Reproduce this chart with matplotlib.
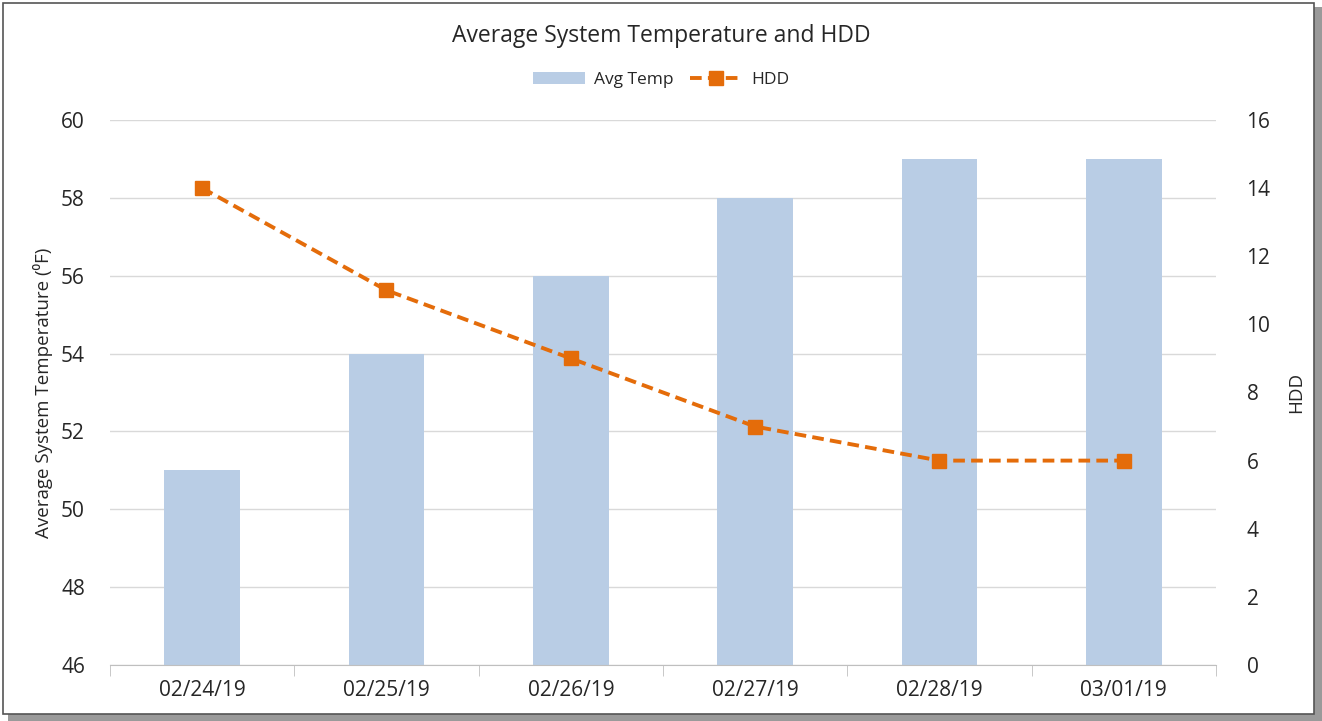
import matplotlib.pyplot as plt
from matplotlib.patches import Rectangle
from matplotlib.lines import Line2D

dates = ['02/24/19', '02/25/19', '02/26/19', '02/27/19', '02/28/19', '03/01/19']
avg_temp = [51, 54, 56, 58, 59, 59]
hdd = [14, 11, 9, 7, 6, 6]

plt.rcParams['font.family'] = ['Open Sans', 'DejaVu Sans']
text_col = '#262626'

fig = plt.figure(figsize=(13.22, 7.21), dpi=100)

# frame with shadow
fig.patches.append(Rectangle((0.006, 0.0), 0.994, 0.99, transform=fig.transFigure,
                             facecolor='#9a9a9a', edgecolor='none', zorder=-2))
fig.patches.append(Rectangle((0.002, 0.01), 0.992, 0.986, transform=fig.transFigure,
                             facecolor='white', edgecolor='#555555', lw=1.2, zorder=-1))

ax = fig.add_axes([0.0832, 0.0777, 0.8366, 0.7559])
x = range(len(dates))
ax.bar(x, avg_temp, width=0.41, color='#B9CDE5', zorder=2)
ax.set_xlim(-0.5, len(dates) - 0.5)
ax.set_ylim(46, 60)
ax.set_yticks(range(46, 61, 2))
ax.grid(axis='y', color='#D9D9D9', lw=1, zorder=0)
ax.set_xticks(list(x))
ax.set_xticklabels(dates)
ax.set_xticks([i - 0.5 for i in range(len(dates) + 1)], minor=True)
ax.tick_params(axis='x', which='major', length=0, pad=11, labelsize=15, labelcolor=text_col)
ax.tick_params(axis='x', which='minor', length=8, color='#BFBFBF')
ax.tick_params(axis='y', length=0, pad=18, labelsize=15, labelcolor=text_col)
for s in ['top', 'right', 'left']:
    ax.spines[s].set_visible(False)
ax.spines['bottom'].set_color('#BFBFBF')
ax.set_ylabel('Average System Temperature (\u2070F)', fontsize=13.5, color=text_col, labelpad=6)

ax2 = ax.twinx()
ax2.plot(list(x), hdd, color='#E46C0A', lw=2.8, ls=(0, (3, 1.6)),
         marker='s', markersize=9.5, zorder=3)
ax2.set_ylim(0, 16)
ax2.set_yticks(range(0, 17, 2))
ax2.tick_params(axis='y', length=0, pad=22, labelsize=15, labelcolor=text_col)
for s in ['top', 'right', 'left', 'bottom']:
    ax2.spines[s].set_visible(False)
ax2.set_ylabel('HDD', fontsize=13.5, color=text_col, labelpad=12)

fig.text(0.5, 0.950, 'Average System Temperature and HDD', ha='center', va='center',
         fontsize=16.5, color=text_col)

handles = [Rectangle((0, 0), 1, 1, facecolor='#B9CDE5'),
           Line2D([], [], color='#E46C0A', lw=2.8, ls=(0, (3, 1.6)), marker='s', markersize=9.5)]
fig.legend(handles, ['Avg Temp', 'HDD'], loc='center', bbox_to_anchor=(0.5, 0.889),
           ncol=2, frameon=False, fontsize=12.5, handlelength=3.0, handletextpad=0.5,
           columnspacing=1.0, labelcolor=text_col)

fig.savefig('out.png', dpi=100)
